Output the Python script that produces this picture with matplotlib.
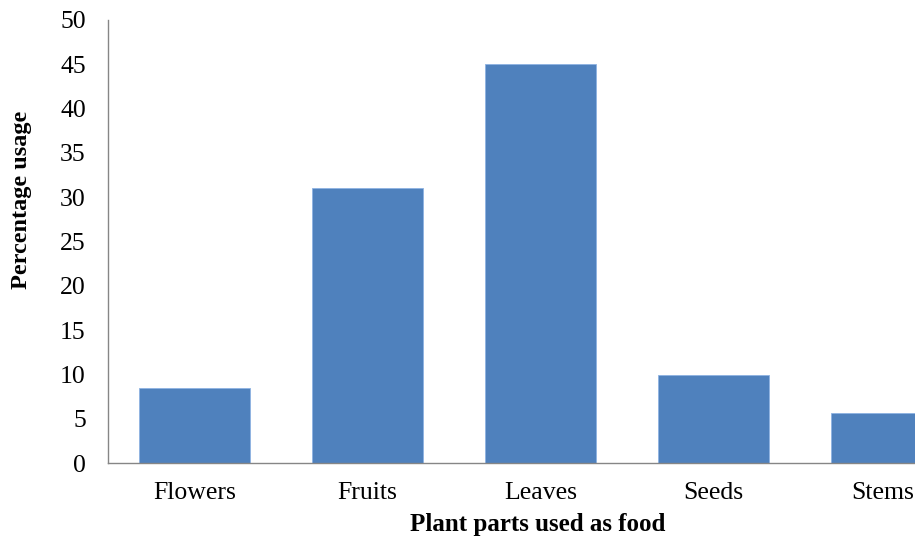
import numpy as np
import matplotlib.pyplot as plt
import matplotlib.transforms as mtransforms

# datos
partes = ['Flowers', 'Fruits', 'Leaves', 'Seeds', 'Stems']
porcentaje = [8.5, 31.0, 45.0, 9.9, 5.6]
y_ticks = list(range(0, 55, 5))

plt.rcParams['font.family'] = ['Liberation Serif', 'DejaVu Serif']

fig = plt.figure(figsize=(9.15, 5.38), dpi=100)
# el eje se sale por la derecha, como en la imagen original
ax = fig.add_axes([108/915, 75/538, 865/915, 443/538])

x = np.arange(len(partes))
ax.bar(x, porcentaje, width=0.64, color='#4F81BD', edgecolor='#8DB3E2', linewidth=0.6, zorder=2)

ax.set_xlim(-0.5, len(partes) - 0.5)
ax.set_ylim(0, 50)
ax.set_yticks(y_ticks)
ax.set_xticks(x)
ax.set_xticklabels(partes)
ax.tick_params(axis='both', length=0, labelsize=18.5, colors='black')
ax.tick_params(axis='y', pad=16)
ax.tick_params(axis='x', pad=14)

# correr "Stems" unos pixeles a la izquierda para que no se corte
ultimo = ax.get_xticklabels()[-1]
desplaz = mtransforms.ScaledTranslation(-4/100, 0, fig.dpi_scale_trans)
ultimo.set_transform(ultimo.get_transform() + desplaz)

for lado in ['top', 'right']:
    ax.spines[lado].set_visible(False)
for lado in ['left', 'bottom']:
    ax.spines[lado].set_color('#868686')
    ax.spines[lado].set_linewidth(1.0)

fig.text(22/915, 1 - 200/538, 'Percentage usage', rotation=90, ha='center', va='center',
         fontsize=17.5, fontweight='bold')
fig.text(538/915, 1 - 525/538, 'Plant parts used as food', ha='center', va='center',
         fontsize=18, fontweight='bold')

fig.savefig('out.png', dpi=100)
